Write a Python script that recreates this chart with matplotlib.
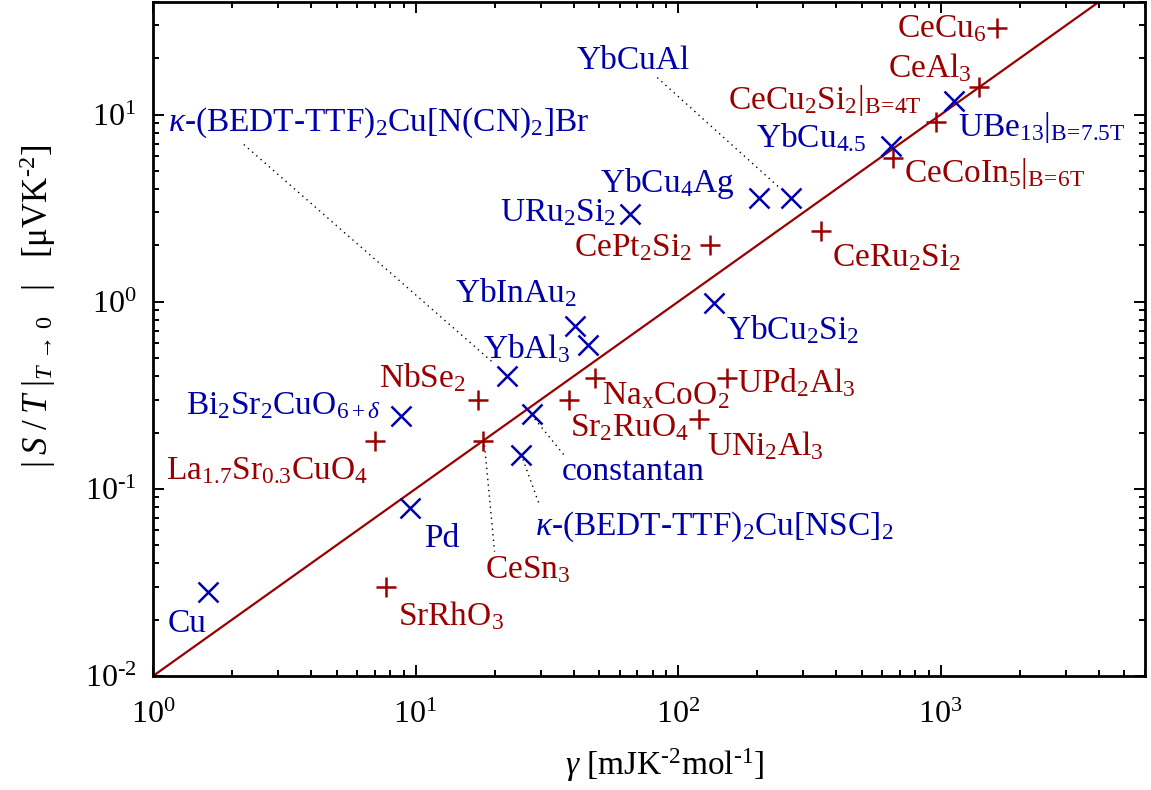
import matplotlib.pyplot as plt
import numpy as np
from matplotlib.ticker import FuncFormatter, NullFormatter, LogLocator

plt.rcParams['font.family'] = ['Liberation Serif', 'DejaVu Serif']
plt.rcParams['mathtext.fontset'] = 'custom'
plt.rcParams['mathtext.rm'] = 'Liberation Serif'
plt.rcParams['mathtext.it'] = 'Liberation Serif:italic'
plt.rcParams['mathtext.bf'] = 'Liberation Serif:bold'

RED = '#990000'
BLUE = '#0000aa'

# "+" series (red)
red_names = ['CeCu$_6$', 'CeAl$_3$', r'CeCu$_2$Si$_2$|$_{\mathrm{B\!=\!4T}}$',
             r'CeCoIn$_5$|$_{\mathrm{B\!=\!6T}}$', 'CeRu$_2$Si$_2$', 'CePt$_2$Si$_2$',
             r'Na$_{\mathrm{x}}$CoO$_2$', 'UPd$_2$Al$_3$', 'Sr$_2$RuO$_4$',
             'UNi$_2$Al$_3$', 'NbSe$_2$', r'La$_{1.7}$Sr$_{0.3}$CuO$_4$',
             'CeSn$_3$', 'SrRhO$_3$']
red_gamma = [1640, 1400, 960, 660, 350, 132, 48.2, 153, 38.5, 120, 17.3, 7.0, 18.0, 7.7]
red_st = [29, 14.1, 9.1, 5.9, 2.4, 2.0, 0.393, 0.393, 0.297, 0.237, 0.30, 0.18, 0.18, 0.030]

# "x" series (blue)
blue_names = ['YbCuAl', 'YbCu$_4$Ag', r'YbCu$_{4.5}$', r'UBe$_{13}$|$_{\mathrm{B\!=\!7.5T}}$',
              'URu$_2$Si$_2$', 'YbInAu$_2$', 'YbAl$_3$', 'YbCu$_2$Si$_2$',
              r'$\kappa$-(BEDT-TTF)$_2$Cu[N(CN)$_2$]Br', r'Bi$_2$Sr$_2$CuO$_{6+\delta}$',
              'constantan', r'$\kappa$-(BEDT-TTF)$_2$Cu[NSC]$_2$', 'Pd', 'Cu']
blue_gamma = [269, 203, 644, 1120, 65.4, 40.5, 45.5, 137, 22.2, 8.8, 27.7, 25.2, 9.5, 1.62]
blue_st = [3.57, 3.57, 6.8, 11.9, 2.94, 0.74, 0.59, 0.99, 0.40, 0.245, 0.25, 0.151, 0.079, 0.028]

# reference line S/T = gamma / 100
fit_gamma = [1, 6000]
fit_st = [0.01, 60]

# label placement: (dx, dy) in pixels from the marker, alignment
red_lab = [(-11, -9, 'right'), (-8, 10, 'right'), (-14, 13, 'right'), (11, -24, 'left'),
           (11, -36, 'left'), (-18, -11, 'right'), (7, -27, 'left'), (10, -15, 'left'),
           (1, -36, 'left'), (8, -36, 'left'), (-12, 12, 'right'), (-7, -38, 'right'),
           (2, -137, 'left'), (12, -38, 'left')]
blue_lab = [(-214, 129, 'left'), (-24, 6, 'right'), (-24, -1, 'right'), (4, -35, 'left'),
            (-13, -7, 'right'), (2, 24, 'right'), (-18, -14, 'right'), (12, -37, 'left'),
            (-339, 245, 'left'), (-20, 2, 'right'), (30, -66, 'left'), (14, -79, 'left'),
            (14, -39, 'left'), (-40, -40, 'left')]

# dotted leaders: (name, series, start offset, end offset) in pixels
leaders = [('YbCuAl', 'blue', (-13, 12), (-134, 121)),
           (r'$\kappa$-(BEDT-TTF)$_2$Cu[N(CN)$_2$]Br', 'blue', (-15, 15), (-263, 232)),
           ('constantan', 'blue', (3, -4.5), (33, -41.5)),
           (r'$\kappa$-(BEDT-TTF)$_2$Cu[NSC]$_2$', 'blue', (2, -4), (19, -51)),
           ('CeSn$_3$', 'red', (2, -4.5), (12, -110.5))]

fig = plt.figure(figsize=(11.51, 7.90), dpi=100)
ax = fig.add_axes([153 / 1151, 1 - 676 / 790, 992 / 1151, 674 / 790])
ax.set_xscale('log')
ax.set_yscale('log')
ax.set_xlim(1, 6000)
ax.set_ylim(0.01, 40)

ax.plot(fit_gamma, fit_st, color=RED, lw=1.6, zorder=2)
ax.plot(red_gamma, red_st, ls='none', marker='+', ms=15, mew=1.8, color=RED, zorder=3)
ax.plot(blue_gamma, blue_st, ls='none', marker='x', ms=14, mew=1.8, color=BLUE, zorder=3)

for name, g, s, (dx, dy, ha) in zip(red_names, red_gamma, red_st, red_lab):
    ax.annotate(name, (g, s), xytext=(dx, dy), textcoords='offset pixels',
                ha=ha, va='baseline', fontsize=24, color=RED)
for name, g, s, (dx, dy, ha) in zip(blue_names, blue_gamma, blue_st, blue_lab):
    ax.annotate(name, (g, s), xytext=(dx, dy), textcoords='offset pixels',
                ha=ha, va='baseline', fontsize=24, color=BLUE)

for name, series, p0, p1 in leaders:
    if series == 'blue':
        i = blue_names.index(name)
        g, s = blue_gamma[i], blue_st[i]
    else:
        i = red_names.index(name)
        g, s = red_gamma[i], red_st[i]
    px, py = ax.transData.transform((g, s))
    pts = np.array([[px + p0[0], py + p0[1]], [px + p1[0], py + p1[1]]])
    d = ax.transData.inverted().transform(pts)
    ax.plot(d[:, 0], d[:, 1], color='black', lw=1.0, ls=(0, (1, 3)), zorder=1)

fmt = FuncFormatter(lambda v, p: r'$10^{%s}$' % str(int(round(np.log10(v)))).replace('-', '‐'))
for axis in (ax.xaxis, ax.yaxis):
    axis.set_major_locator(LogLocator(base=10, numticks=10))
    axis.set_minor_locator(LogLocator(base=10, subs=np.arange(2, 10), numticks=20))
    axis.set_major_formatter(fmt)
    axis.set_minor_formatter(NullFormatter())

ax.tick_params(which='both', direction='in', top=True, right=True, width=1.4)
ax.tick_params(which='major', length=8, labelsize=23)
ax.tick_params(which='minor', length=4.5)
ax.tick_params(axis='x', which='major', pad=18)
ax.tick_params(axis='y', which='major', pad=12)
for sp in ax.spines.values():
    sp.set_linewidth(2)

ax.set_xlabel(r'$\gamma$ [mJK$^{‐2}$mol$^{‐1}$]', fontsize=24)
ax.xaxis.set_label_coords((665 - 153) / 992, -(746 - 676) / 674)
ax.set_ylabel(r'$\left|\;S\;/\;T\;|_{T\,\rightarrow\,0}\quad\right|$   [μVK$^{‐2}$]', fontsize=25)
ax.yaxis.set_label_coords(-(153 - 58) / 992, (676 - 306) / 674)

fig.savefig('out.png', dpi=100)
